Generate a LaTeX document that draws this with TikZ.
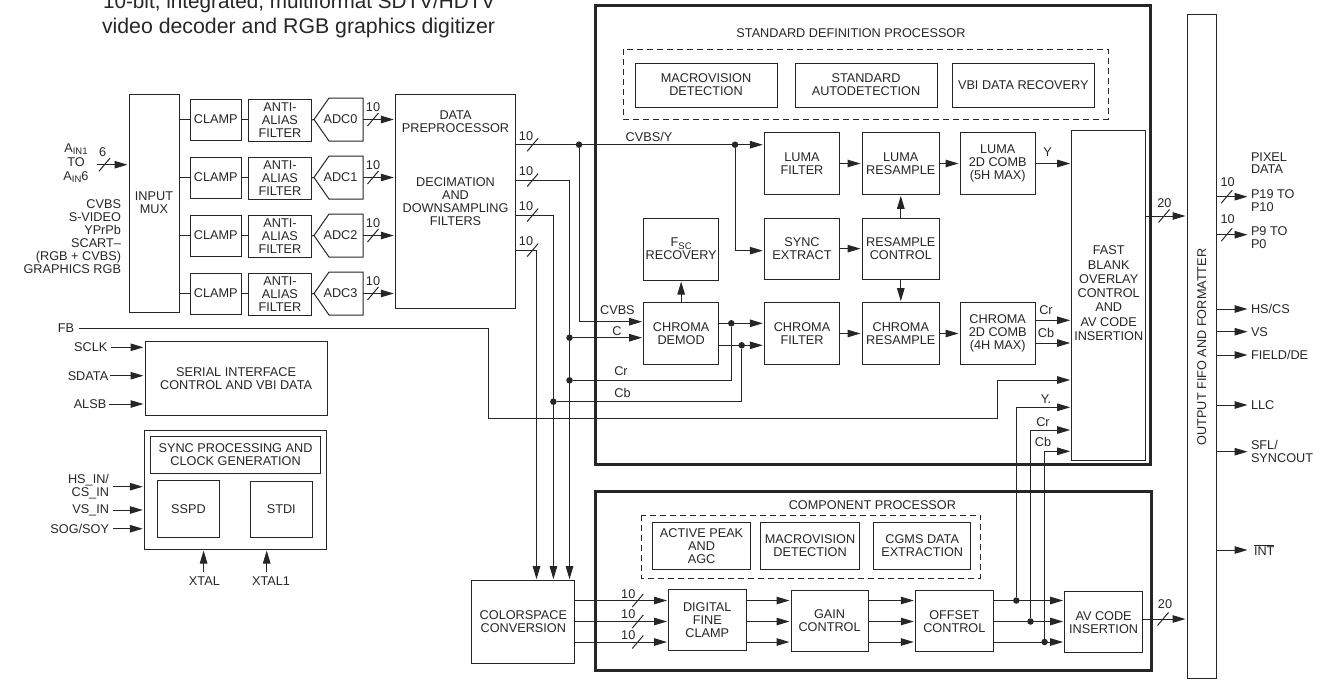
\documentclass[tikz,border=0pt]{standalone}
\usepackage{fontspec}
\setmainfont{Liberation Sans}
\usetikzlibrary{arrows.meta}
\definecolor{inkdark}{HTML}{262626}
\tikzset{
  blk/.style={draw=inkdark, line width=1pt, inner sep=0pt, outer sep=0pt, align=center, text=inkdark,
    font=\fontsize{12.7}{13}\selectfont},
  thickbox/.style={draw=inkdark, line width=3pt, inner sep=0pt, outer sep=0pt},
  dashbox/.style={draw=inkdark, line width=1pt, dash pattern=on 6pt off 4pt},
  lab/.style={inner sep=0pt, outer sep=0pt, text=inkdark, align=center, font=\fontsize{12.7}{13}\selectfont},
  sig/.style={draw=inkdark, line width=1pt},
  sigarrow/.style={sig, -{Triangle[length=13pt,width=7.5pt]}, shorten >=1.5pt},
  jdot/.style={circle, fill=inkdark, inner sep=0pt, outer sep=0pt, minimum size=6.5pt},
}
\newcommand{\subtxt}[1]{\raisebox{-2.5pt}{\fontsize{9.5}{9.5}\selectfont #1}}
\newcommand{\blk}[6]{\node[blk, minimum width={#4-#2}, minimum height={#5-#3}] (#1) at ({(#2+#4)/2},{(#3+#5)/2}) {#6};}
\newcommand{\adc}[3]{\node[lab, minimum width=45, minimum height=43] (#1) at (340.5,#2) {#3};
  \draw[sig] ([xshift=-4pt]#1.west) -- ([xshift=11pt]#1.north west) -- (#1.north east) -- (#1.south east) -- ([xshift=11pt]#1.south west) -- cycle;}
\newcommand{\busmark}[6]{\draw[sig] ({#2-5.5},{#3+6.5}) -- ({#2+5.5},{#3-6.5});
  \node[lab] (#1) at (#4,#5) {#6};}
\begin{document}
\begin{tikzpicture}[x=1pt,y=-1pt]
\useasboundingbox (0,0) rectangle (1335,686);
\clip (0,0) rectangle (1335,686);
\node[lab, anchor=base west, font=\fontsize{20.7}{24}\selectfont] (titlea) at (103,8.5) {10-bit, integrated, multiformat SDTV/HDTV};
\node[lab, anchor=base west, font=\fontsize{21.3}{24}\selectfont] (titleb) at (102,33.3) {video decoder and RGB graphics digitizer};

% input side
\blk{mux}{129}{94}{179}{312}{INPUT\\MUX}
\blk{clampa}{190.6}{99}{241}{140}{CLAMP}
\blk{clampb}{190.6}{157}{241}{198}{CLAMP}
\blk{clampc}{190.6}{215}{241}{256}{CLAMP}
\blk{clampd}{190.6}{273}{241}{314}{CLAMP}
\blk{antia}{248.4}{99}{311.5}{141}{ANTI-\\ALIAS\\FILTER}
\blk{antib}{248.4}{157}{311.5}{199}{ANTI-\\ALIAS\\FILTER}
\blk{antic}{248.4}{215}{311.5}{257}{ANTI-\\ALIAS\\FILTER}
\blk{antid}{248.4}{273}{311.5}{315}{ANTI-\\ALIAS\\FILTER}
\adc{adca}{119.5}{ADC0}
\adc{adcb}{177.5}{ADC1}
\adc{adcc}{235.5}{ADC2}
\adc{adcd}{293.5}{ADC3}
\blk{pre}{395.3}{94}{515.9}{308}{}
\node[lab] (pretop) at (455.5,122) {DATA\\PREPROCESSOR};
\node[lab] (prelow) at (455.5,202) {DECIMATION\\AND\\DOWNSAMPLING\\FILTERS};

\node[lab] (ain) at (76,163) {A\subtxt{IN1}\\[1pt]TO\\[1pt]A\subtxt{IN}6};
\node[lab, align=right, anchor=east] (formats) at (121,236.5) {CVBS\\S-VIDEO\\YPrPb\\SCART–\\(RGB + CVBS)\\GRAPHICS RGB};
\coordinate (ains) at (96.8,164.7);
\draw[sigarrow] (ains) -- (mux.west |- ains);
\busmark{ainn}{104.5}{164.7}{102.6}{152}{6}

% serial and sync blocks
\blk{serial}{145}{341.3}{327.2}{415.7}{SERIAL INTERFACE\\CONTROL AND VBI DATA}
\blk{sync}{144.3}{430.3}{326.8}{549}{}
\blk{syncp}{150.4}{436.3}{320.7}{473.3}{SYNC PROCESSING AND\\CLOCK GENERATION}
\blk{sspd}{157.3}{480.3}{219.7}{537}{SSPD}
\blk{stdi}{250.3}{481.7}{312.3}{537.3}{STDI}
\node[lab] (sclk) at (90.7,347.3) {SCLK};
\node[lab] (sdata) at (88,375.7) {SDATA};
\node[lab] (alsb) at (90,404) {ALSB};
\node[lab, align=right, anchor=east] (hsin) at (109,487) {HS\_IN/\\CS\_IN};
\node[lab, anchor=east] (vsin) at (109,510) {VS\_IN};
\node[lab, anchor=east] (sog) at (109,528.7) {SOG/SOY};
\node[lab] (xtal) at (204.4,580.7) {XTAL};
\node[lab] (xtala) at (271,580.7) {XTAL1};
\draw[sigarrow] ([xshift=4pt]sclk.east) -- (serial.west |- sclk);
\draw[sigarrow] ([xshift=2pt]sdata.east) -- (serial.west |- sdata);
\draw[sigarrow] ([xshift=3pt]alsb.east) -- (serial.west |- alsb);
\draw[sigarrow] (113,486.7) -- (sync.west |- 0,486.7);
\draw[sigarrow] ([xshift=4pt]vsin.east) -- (sync.west |- vsin);
\draw[sigarrow] ([xshift=4pt]sog.east) -- (sync.west |- sog);
\draw[sigarrow] (203.6,571.7) -- (sync.south -| 203.6,0);
\draw[sigarrow] (266.7,571.7) -- (sync.south -| 266.7,0);

% standard definition processor
\node[thickbox, minimum width=555, minimum height=459] (sdp) at (873.25,234.5) {};
\node[lab] (sdptitle) at (851,33) {STANDARD DEFINITION PROCESSOR};
\draw[dashbox] (623,49) rectangle (1108,119);
\blk{macro}{635}{63}{777}{107}{MACROVISION\\DETECTION}
\blk{stda}{795}{63}{937}{107}{STANDARD\\AUTODETECTION}
\blk{vbi}{952.6}{63}{1094}{107}{VBI DATA RECOVERY}
\blk{lfilt}{764.3}{132.7}{839.7}{194.3}{LUMA\\FILTER}
\blk{lres}{862}{132.7}{939.6}{194.3}{LUMA\\RESAMPLE}
\blk{lcomb}{960}{132.7}{1035.4}{194.3}{LUMA\\2D COMB\\(5H MAX)}
\blk{sext}{764.3}{218}{839.7}{279.3}{SYNC\\EXTRACT}
\blk{rctl}{862}{218}{939.6}{279.3}{RESAMPLE\\CONTROL}
\blk{fsc}{643.6}{218}{718.7}{280}{F\subtxt{SC}\\RECOVERY}
\blk{demod}{643.6}{302.7}{718.7}{364.3}{CHROMA\\DEMOD}
\blk{cfilt}{764.3}{302.7}{839.7}{364.3}{CHROMA\\FILTER}
\blk{cres}{862}{302.7}{939.6}{364.3}{CHROMA\\RESAMPLE}
\blk{ccomb}{960}{302.7}{1035.4}{364.3}{CHROMA\\2D COMB\\(4H MAX)}
\blk{fast}{1071.7}{130.7}{1145.7}{460}{}
\node[lab, font=\fontsize{12.7}{14.3}\selectfont] (fasttxt) at (1108.7,293.3) {FAST\\BLANK\\OVERLAY\\CONTROL\\AND\\AV CODE\\INSERTION};

% component processor
\node[thickbox, minimum width=556, minimum height=179.5] (cpp) at (873.9,581.2) {};
\node[lab] (cpptitle) at (872.4,505) {COMPONENT PROCESSOR};
\draw[dashbox] (641.7,515) rectangle (980.4,578.3);
\blk{peak}{652.4}{522.3}{750.7}{569.3}{ACTIVE PEAK\\AND\\AGC}
\blk{macrob}{760.7}{522.3}{859.4}{569.3}{MACROVISION\\DETECTION}
\blk{cgms}{873.6}{522.3}{970.8}{569.3}{CGMS DATA\\EXTRACTION}
\blk{color}{471.9}{580.7}{574.8}{663.3}{COLORSPACE\\CONVERSION}
\blk{dfc}{668.5}{589.3}{746}{650.3}{DIGITAL\\FINE\\CLAMP}
\blk{gain}{791}{590.7}{868.2}{651}{GAIN\\CONTROL}
\blk{offs}{915.3}{590.7}{993.4}{651.7}{OFFSET\\CONTROL}
\blk{avc}{1064.6}{591.7}{1142.6}{652.7}{AV CODE\\INSERTION}

% output side
\blk{out}{1187}{14}{1216.7}{678.7}{}
\node[lab, rotate=90] (outtxt) at (1201.7,347) {OUTPUT FIFO AND FORMATTER};
\node[lab, align=left, anchor=west, font=\fontsize{12.7}{12.3}\selectfont] (pixel) at (1251,163.3) {PIXEL\\DATA};
\node[lab, align=left, anchor=west, font=\fontsize{12.7}{12.3}\selectfont] (pa) at (1251,200.5) {P19 TO\\P10};
\node[lab, align=left, anchor=west, font=\fontsize{12.7}{12.3}\selectfont] (pb) at (1251,237.5) {P9 TO\\P0};
\node[lab, anchor=west] (hs) at (1251,309) {HS/CS};
\node[lab, anchor=west] (vs) at (1251,331.7) {VS};
\node[lab, anchor=west] (field) at (1251,355) {FIELD/DE};
\node[lab, anchor=west] (llc) at (1251,405) {LLC};
\node[lab, align=left, anchor=west, font=\fontsize{12.7}{13}\selectfont] (sfl) at (1251,451.7) {SFL/\\SYNCOUT};
\node[lab, anchor=west] (intr) at (1254,550) {$\overline{\mbox{INT}}$};

% connectors on the left
\draw[sig] (mux.east |- clampa) -- (clampa.west);
\draw[sig] (mux.east |- clampb) -- (clampb.west);
\draw[sig] (mux.east |- clampc) -- (clampc.west);
\draw[sig] (mux.east |- clampd) -- (clampd.west);
\draw[sig] (clampa.east) -- (antia.west |- clampa);
\draw[sig] (clampb.east) -- (antib.west |- clampb);
\draw[sig] (clampc.east) -- (antic.west |- clampc);
\draw[sig] (clampd.east) -- (antid.west |- clampd);
\draw[sig] (antia.east) -- ([xshift=-4pt]adca.west);
\draw[sig] (antib.east) -- ([xshift=-4pt]adcb.west);
\draw[sig] (antic.east) -- ([xshift=-4pt]adcc.west);
\draw[sig] (antid.east) -- ([xshift=-4pt]adcd.west);
\draw[sigarrow] (adca.east) -- (pre.west |- adca);
\draw[sigarrow] (adcb.east) -- (pre.west |- adcb);
\draw[sigarrow] (adcc.east) -- (pre.west |- adcc);
\draw[sigarrow] (adcd.east) -- (pre.west |- adcd);
\busmark{bita}{373}{119.5}{373}{107}{10}
\busmark{bitb}{373}{177.5}{373}{165}{10}
\busmark{bitc}{373}{235.5}{373}{223}{10}
\busmark{bitd}{373}{293.5}{373}{281}{10}

% buses leaving the preprocessor
\coordinate (oa) at (515.9,144.7);
\coordinate (ob) at (515.9,180);
\coordinate (oc) at (515.9,215);
\coordinate (od) at (515.9,250);
\coordinate (dca) at (643.6,321.7);
\node[jdot] (ja) at (579,144.7) {};
\node[jdot] (jb) at (735,144.7) {};
\node[jdot] (jc) at (569.5,337.7) {};
\node[jdot] (jd) at (569.5,380.3) {};
\node[jdot] (je) at (553.4,401.7) {};
\node[jdot] (jf) at (731.3,323.3) {};
\node[jdot] (jg) at (741.7,345.3) {};
\draw[sigarrow] (oa) -- (lfilt.west |- oa);
\draw[sigarrow] (ob) -| (jc |- color.north);
\draw[sigarrow] (oc) -| (je |- color.north);
\draw[sigarrow] (od) -| (536.5,580.7);
\busmark{buta}{532.7}{144.7}{526}{136}{10}
\busmark{butb}{532.7}{180}{526}{171}{10}
\busmark{butc}{532.7}{215}{526}{206}{10}
\busmark{butd}{532.7}{250}{526}{241}{10}
\draw[sigarrow] (ja) |- (dca);
\draw[sigarrow] (jc) -- (demod.west |- jc);
\draw[sig] (jd) -| (jf);
\draw[sig] (je) -| (jg);
\draw[sigarrow] (jb) |- ([yshift=-2pt]sext.west);
\node[lab] (cvbsy) at (649,136.7) {CVBS/Y};
\node[lab] (cvbs) at (617.4,310) {CVBS};
\node[lab] (cl) at (617,330.7) {C};
\node[lab] (crl) at (621,370.7) {Cr};
\node[lab] (cbl) at (622.6,393) {Cb};

% fast blank line
\node[lab] (fb) at (66,328) {FB};
\coordinate (fbs) at (78.5,328);
\coordinate (fba) at (488.7,418.7);
\coordinate (fbb) at (997,418.7);
\coordinate (fbc) at (997,380);
\draw[sig] (fbs) -| (fba) -- (fbb);
\draw[sigarrow] (fbb) |- (fast.west |- fbc);

% inside the standard definition processor
\draw[sigarrow] (lfilt.east) -- (lres.west);
\draw[sigarrow] (lres.east) -- (lcomb.west);
\draw[sigarrow] (lcomb.east) -- (fast.west |- lcomb.east);
\draw[sigarrow] (sext.east) -- (rctl.west);
\draw[sigarrow] (rctl.north) -- (lres.south);
\draw[sigarrow] (rctl.south) -- (cres.north);
\draw[sigarrow] (demod.north) -- (fsc.south);
\draw[sigarrow] (demod.east |- jf) -- (cfilt.west |- jf);
\draw[sigarrow] (demod.east |- jg) -- (cfilt.west |- jg);
\draw[sigarrow] (cfilt.east) -- (cres.west);
\draw[sigarrow] (cres.east) -- (ccomb.west);
\draw[sigarrow] ([yshift=13.2pt]ccomb.east) -- (fast.west |- 0,320.3);
\draw[sigarrow] ([yshift=-9.5pt]ccomb.east) -- (fast.west |- 0,343);
\node[lab] (ylab) at (1047.6,152) {Y};
\node[lab] (crb) at (1046,310) {Cr};
\node[lab] (cbb) at (1046,333) {Cb};
\node[lab] (ylb) at (1046,399) {Y.};
\node[lab] (crc) at (1043,422.3) {Cr};
\node[lab] (cbc) at (1043,442.3) {Cb};

% inside the component processor
\coordinate (ra) at (0,600.5);
\coordinate (rb) at (0,621.5);
\coordinate (rc) at (0,642);
\node[jdot] (jh) at (1016.3,600.5) {};
\node[jdot] (ji) at (1030.5,621.5) {};
\node[jdot] (jj) at (1044.6,642) {};
\draw[sigarrow] (color.east |- ra) -- (dfc.west |- ra);
\draw[sigarrow] (color.east |- rb) -- (dfc.west |- rb);
\draw[sigarrow] (color.east |- rc) -- (dfc.west |- rc);
\draw[sigarrow] (dfc.east |- ra) -- (gain.west |- ra);
\draw[sigarrow] (dfc.east |- rb) -- (gain.west |- rb);
\draw[sigarrow] (dfc.east |- rc) -- (gain.west |- rc);
\draw[sigarrow] (gain.east |- ra) -- (offs.west |- ra);
\draw[sigarrow] (gain.east |- rb) -- (offs.west |- rb);
\draw[sigarrow] (gain.east |- rc) -- (offs.west |- rc);
\draw[sigarrow] (offs.east |- ra) -- (avc.west |- ra);
\draw[sigarrow] (offs.east |- rb) -- (avc.west |- rb);
\draw[sigarrow] (offs.east |- rc) -- (avc.west |- rc);
\busmark{bca}{637.8}{600.5}{628.3}{594}{10}
\busmark{bcb}{637.8}{621.5}{628.3}{614}{10}
\busmark{bcc}{637.8}{642}{628.3}{635}{10}
\draw[sigarrow] (jh) |- (fast.west |- 0,407.3);
\draw[sigarrow] (ji) |- (fast.west |- 0,430);
\draw[sigarrow] (jj) |- (fast.west |- 0,451.3);

% into and out of the output block
\draw[sigarrow] (fast.east |- 0,216) -- (out.west |- 0,216);
\busmark{fta}{1164}{216}{1164.3}{202.7}{20}
\draw[sigarrow] (avc.east |- 0,619) -- (out.west |- 0,619);
\busmark{ftb}{1163}{619}{1165}{604.3}{20}
\draw[sigarrow] (out.east |- 0,196.7) -- (1249,196.7);
\draw[sigarrow] (out.east |- 0,234.7) -- (1249,234.7);
\busmark{pta}{1226.7}{196.7}{1227.7}{181.7}{10}
\busmark{ptb}{1226.7}{234.7}{1227.7}{218.7}{10}
\draw[sigarrow] (out.east |- hs) -- ([xshift=-2pt]hs.west);
\draw[sigarrow] (out.east |- vs) -- ([xshift=-2pt]vs.west);
\draw[sigarrow] (out.east |- field) -- ([xshift=-2pt]field.west);
\draw[sigarrow] (out.east |- llc) -- ([xshift=-2pt]llc.west);
\draw[sigarrow] (out.east |- sfl) -- ([xshift=-2pt]sfl.west);
\draw[sigarrow] (out.east |- intr) -- ([xshift=-5pt]intr.west);
\end{tikzpicture}
\end{document}
